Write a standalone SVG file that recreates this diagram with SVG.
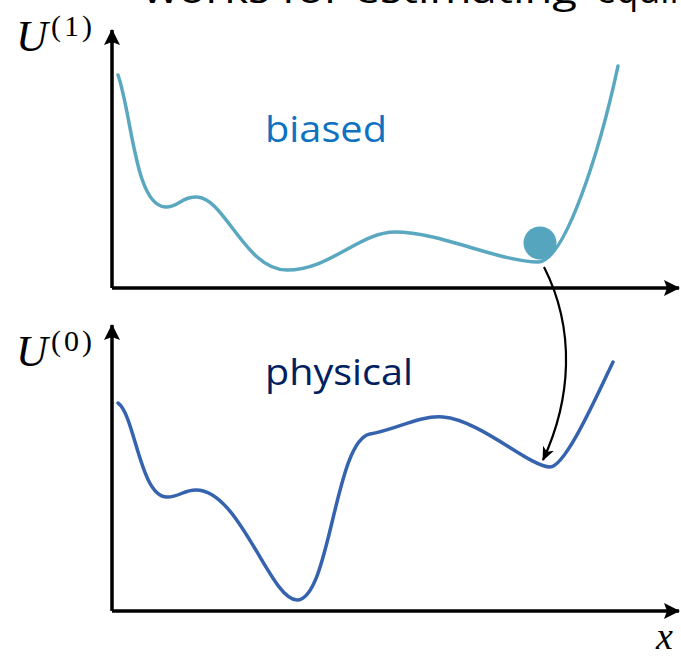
<svg xmlns="http://www.w3.org/2000/svg" width="681" height="660" viewBox="0 0 681 660">
<defs>
<style>
.axis{stroke:#000;stroke-width:3.5;fill:none}
.math{font-family:"Liberation Serif","DejaVu Serif",serif;fill:#000}
.sup{font-family:"Liberation Serif","DejaVu Serif",serif;fill:#000;font-size:30px;letter-spacing:3px}
.lbl{font-family:"Open Sans","Noto Sans",sans-serif}
.title{font-family:"Open Sans","Noto Sans",sans-serif;font-size:36px;fill:#000}
</style>
<marker id="ah" viewBox="0 0 16 16" refX="15" refY="8" markerWidth="16" markerHeight="16" markerUnits="userSpaceOnUse" orient="auto">
<path d="M0,0 L16,8 L0,16 L3,8 z" fill="#000"/>
</marker>
<marker id="conn" viewBox="0 0 14 12" refX="13" refY="6" markerWidth="14" markerHeight="12" markerUnits="userSpaceOnUse" orient="auto">
<path d="M0,0 L14,6 L0,12 L4,6 z" fill="#000"/>
</marker>
</defs>
<rect width="681" height="660" fill="#fff"/>
<text class="title" x="143" y="3" textLength="434" lengthAdjust="spacingAndGlyphs">works for estimating</text>
<text class="title" x="596" y="3">equilibrium</text>

<g id="top-plot">
<path class="axis" d="M112,288 L112,30" marker-end="url(#ah)"/>
<path class="axis" d="M112,288 L679,288" marker-end="url(#ah)"/>
<text class="math" x="16" y="51" font-size="44" font-style="italic">U</text>
<text class="sup" x="51" y="36">(1)</text>
<path d="M118,75 C132,115 135,205 165,207 C178,208 182,196 197,197 C225,198 245,270 287,270 C330,270 360,232 395,232 C440,232 500,262 538,262 C565,262 600,150 618,66" fill="none" stroke="#5AA7C0" stroke-width="3.5" stroke-linecap="round"/>
<circle cx="540" cy="243" r="16.5" fill="#55A5BF"/>
<text class="lbl" x="265" y="142" font-size="37" fill="#0E72C0" textLength="122" lengthAdjust="spacingAndGlyphs">biased</text>
</g>

<g id="bottom-plot">
<path class="axis" d="M112,611 L112,325" marker-end="url(#ah)"/>
<path class="axis" d="M112,611 L679,611" marker-end="url(#ah)"/>
<text class="math" x="16" y="366" font-size="44" font-style="italic">U</text>
<text class="sup" x="51" y="351">(0)</text>
<text class="math" x="656" y="649" font-size="38" font-style="italic">x</text>
<path d="M118,403 C135,415 140,497 167,497 C180,497 183,490 196,490 C240,490 270,600 297,600 C330,600 335,440 370,434 C395,430 420,415 443,417 C480,420 530,467 550,467 C565,467 595,400 613,362" fill="none" stroke="#3563AE" stroke-width="3.5" stroke-linecap="round"/>
<text class="lbl" x="265" y="385" font-size="37" fill="#002060" textLength="148" lengthAdjust="spacingAndGlyphs">physical</text>
</g>

<g id="connectors">
<path d="M544,267 C576,330 571,400 543,460" fill="none" stroke="#000" stroke-width="2.2" marker-end="url(#conn)"/>
</g>
</svg>
